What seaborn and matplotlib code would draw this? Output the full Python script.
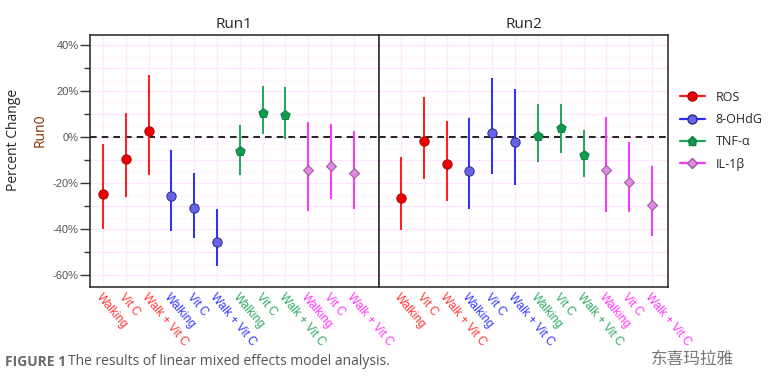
import numpy as np
import pandas as pd
import matplotlib
matplotlib.use("Agg")
import matplotlib.pyplot as plt
from matplotlib.lines import Line2D
import seaborn as sns

# data (percent change vs Run0)
runs = ["Run1", "Run2"]
markers_names = ["ROS", "8-OHdG", "TNF-\u03b1", "IL-1\u03b2"]
treatments = ["Walking", "Vit C", "Walk + Vit C"]

run1_est = [-24.8, -9.7, 2.7, -25.7, -31.0, -45.8, -6.0, 10.6, 9.6, -14.3, -12.5, -15.8]
run1_lo = [-40.0, -26.0, -16.5, -41.0, -44.0, -56.0, -16.5, 1.3, -1.0, -32.0, -27.0, -31.3]
run1_hi = [-3.0, 10.3, 27.0, -5.6, -15.4, -31.4, 5.2, 22.0, 21.6, 6.4, 5.5, 2.6]

run2_est = [-26.7, -1.6, -11.7, -14.6, 1.9, -2.0, 0.6, 4.0, -7.8, -14.3, -19.7, -29.6]
run2_lo = [-40.4, -18.4, -27.7, -31.3, -16.1, -20.9, -11.0, -7.1, -17.5, -32.7, -32.5, -43.0]
run2_hi = [-8.6, 17.3, 7.1, 8.4, 25.5, 20.7, 14.6, 14.6, 3.0, 8.6, -2.0, -12.5]

line_colors = {"ROS": "#ff1a1a", "8-OHdG": "#2b2bff", "TNF-\u03b1": "#1fa65a", "IL-1\u03b2": "#ff33ff"}
fill_colors = {"ROS": "#ee0000", "8-OHdG": "#6464e6", "TNF-\u03b1": "#0f9a50", "IL-1\u03b2": "#dd8ddd"}
edge_colors = {"ROS": "#aa0000", "8-OHdG": "#2a2a88", "TNF-\u03b1": "#0d8044", "IL-1\u03b2": "#a050a0"}
tick_colors = {"ROS": "#ff3333", "8-OHdG": "#3333ff", "TNF-\u03b1": "#2aa860", "IL-1\u03b2": "#ff33ff"}
marker_shape = {"ROS": "o", "8-OHdG": "o", "TNF-\u03b1": "p", "IL-1\u03b2": "D"}
marker_size = {"ROS": 45, "8-OHdG": 45, "TNF-\u03b1": 50, "IL-1\u03b2": 26}

rows = []
for run, est, lo, hi in [("Run1", run1_est, run1_lo, run1_hi), ("Run2", run2_est, run2_lo, run2_hi)]:
    i = 0
    for m in markers_names:
        for t in treatments:
            rows.append({"run": run, "marker": m, "treatment": t, "pos": i,
                         "est": est[i], "lo": lo[i], "hi": hi[i]})
            i += 1
df = pd.DataFrame(rows)

sns.set_style("white")
plt.rcParams["font.family"] = ["Open Sans", "Noto Sans CJK SC", "DejaVu Sans"]

fig, axes = plt.subplots(1, 2, figsize=(7.68, 3.9), dpi=100, sharey=True)
fig.subplots_adjust(left=0.117, right=0.870, top=0.9115, bottom=0.264, wspace=0)

xlims = {"Run1": (-0.57, 12.1), "Run2": (-0.96, 11.7)}

for ax, run in zip(axes, runs):
    d = df[df.run == run]
    ax.set_xlim(*xlims[run])
    ax.set_ylim(-65.2, 44.6)
    # pink grid
    for yv in np.arange(-60, 41, 10):
        ax.axhline(yv, color="#ffe8ff", lw=1.0, zorder=0)
    for yv in np.arange(-65, 45, 10):
        ax.axhline(yv, color="#fff6ff", lw=0.8, zorder=0)
    for xv in d.pos:
        ax.axvline(xv, color="#ffe8ff", lw=1.0, zorder=0)
    ax.axhline(0, color="black", lw=1.2, ls=(0, (4, 3)), zorder=1)

    for m in markers_names:
        dm = d[d.marker == m]
        ax.vlines(dm.pos, dm.lo, dm.hi, colors=line_colors[m], lw=1.4, zorder=2)
        sns.scatterplot(data=dm, x="pos", y="est", ax=ax, marker=marker_shape[m],
                        s=marker_size[m], color=fill_colors[m], edgecolor=edge_colors[m],
                        linewidth=0.7, zorder=3, legend=False)

    ax.set_title(run, fontsize=11, pad=5)
    ax.set_xlabel("")
    ax.set_ylabel("")
    ax.set_xticks(list(d.pos))
    ax.set_xticklabels(list(d.treatment), rotation=-50, ha="left", va="top",
                       rotation_mode="anchor", fontsize=8.5, family=["Liberation Sans"])
    for lab, m in zip(ax.get_xticklabels(), d.marker):
        lab.set_color(tick_colors[m])
    ax.tick_params(axis="x", length=0, pad=3)
    for sp in ax.spines.values():
        sp.set_color("#333333")
        sp.set_linewidth(1.2)

axes[0].set_yticks([40, 20, 0, -20, -40, -60])
axes[0].set_yticklabels(["40%", "20%", "0%", "-20%", "-40%", "-60%"], fontsize=8,
                        color="#555555", family=["Liberation Sans"])
axes[0].set_yticks([30, 10, -10, -30, -50], minor=True)
axes[0].tick_params(axis="y", which="major", length=7, width=1, color="#333333", pad=1, left=True)
axes[0].tick_params(axis="y", which="minor", length=4, width=1, color="#333333", left=True)
axes[1].tick_params(axis="y", which="both", length=0)

# y axis label
fig.text(0.018, 0.64, "Percent Change", rotation=90, ha="center", va="center", fontsize=10)
fig.text(0.052, 0.665, "Run0", rotation=90, ha="center", va="center", fontsize=10, color="#8b2a00")

# legend
handles = [Line2D([0], [0], color=line_colors[m], lw=1.6, marker=marker_shape[m],
                  markersize=6.5 if m != "IL-1\u03b2" else 5, markerfacecolor=fill_colors[m],
                  markeredgecolor=edge_colors[m]) for m in markers_names]
fig.legend(handles, markers_names, loc="center left", bbox_to_anchor=(0.875, 0.665),
           frameon=False, fontsize=9, handlelength=2.0, labelspacing=0.75, handletextpad=0.9,
           borderaxespad=0.2)

# caption and watermark
fig.text(0.006, 0.072, "FIGURE 1", fontsize=10, fontweight="bold", color="#6b6b6b", va="center")
fig.text(0.088, 0.072, "The results of linear mixed effects model analysis.", fontsize=10,
         color="#555555", va="center")
fig.text(0.848, 0.078, "\u4e1c\u559c\u739b\u62c9\u96c5", fontsize=12, color="#777777", va="center",
         family=["Noto Sans CJK SC"])

fig.savefig("out.png", dpi=100)
